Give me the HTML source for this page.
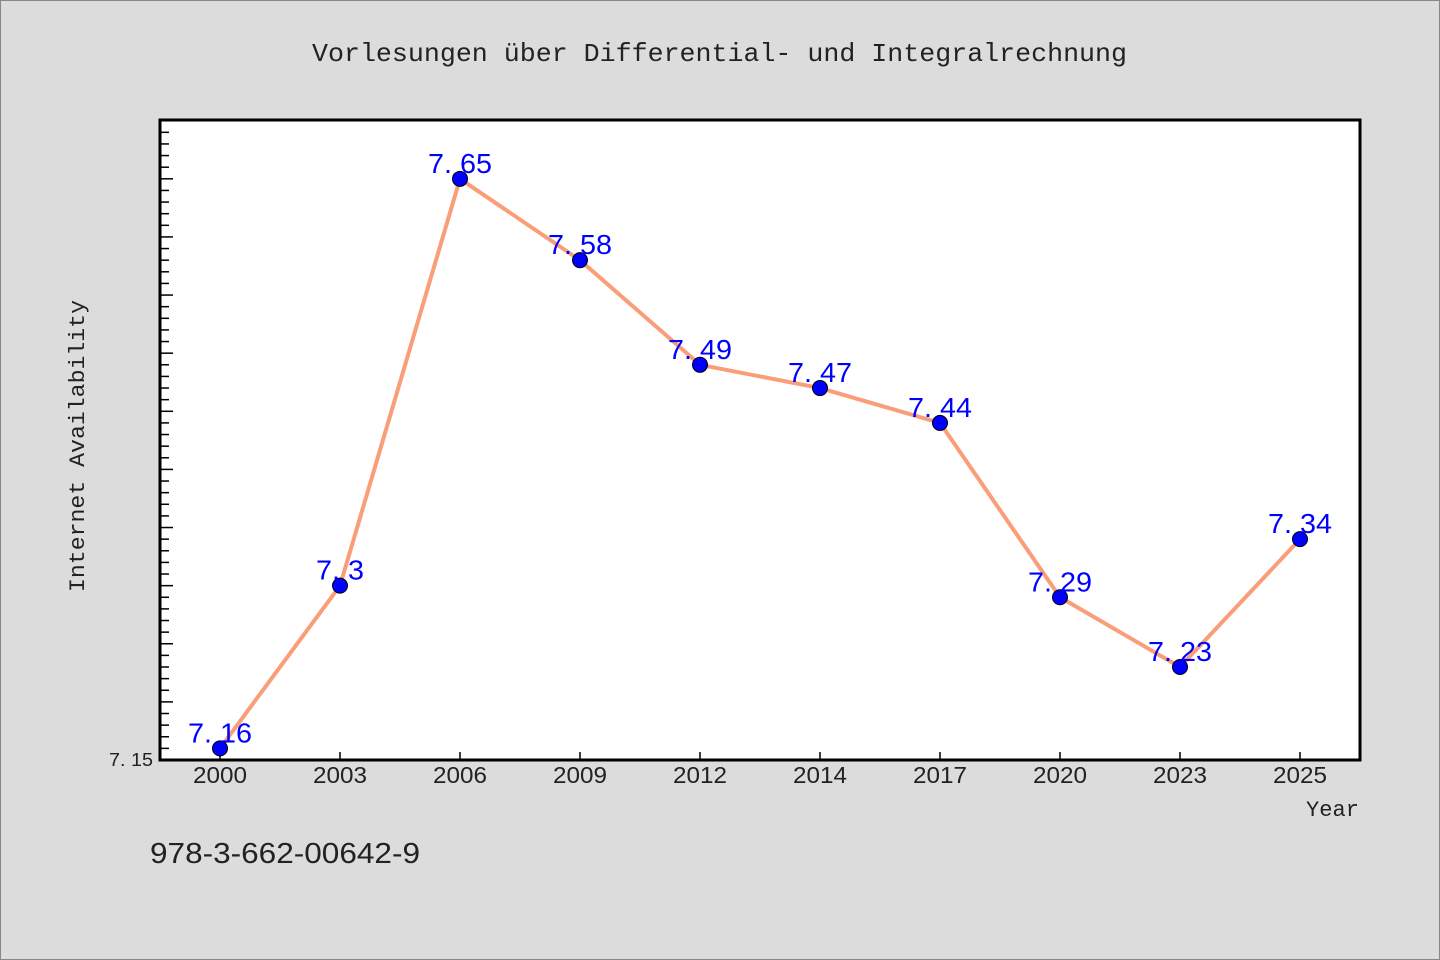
<!DOCTYPE html>
<html><head><meta charset="utf-8"><style>
body{margin:0;background:#dcdcdc;}
svg{display:block;font-family:"Liberation Sans",sans-serif;}
</style></head><body>
<svg width="1440" height="960" id="c">
<rect x="0.5" y="0.5" width="1439" height="959" fill="#dcdcdc" stroke="#888"/>
<text x="312" y="61" textLength="815" lengthAdjust="spacingAndGlyphs" font-family="Liberation Mono, monospace" font-size="26" fill="#222">Vorlesungen über Differential- und Integralrechnung</text>
<rect x="160" y="120" width="1200" height="640" fill="#fff"/>
<g id="ticks"></g>
<g id="marks"></g>
<rect x="160" y="120" width="1200" height="640" fill="none" stroke="#000" stroke-width="3"/>
<text x="84" y="592" transform="rotate(-90 84 592)" textLength="292" lengthAdjust="spacingAndGlyphs" font-family="Liberation Mono, monospace" font-size="22" fill="#222">Internet Availability</text>
<text x="1306" y="816" textLength="53" lengthAdjust="spacingAndGlyphs" font-family="Liberation Mono, monospace" font-size="22" fill="#222">Year</text>
<text x="150" y="863" textLength="270" lengthAdjust="spacingAndGlyphs" font-size="29" fill="#222">978-3-662-00642-9</text>
</svg>
<script>
const categories=["2000","2003","2006","2009","2012","2014","2017","2020","2023","2025"];
const values=[7.16,7.3,7.65,7.58,7.49,7.47,7.44,7.29,7.23,7.34];
const yTickLabels=["7.15"];
const yMin=7.15,yMax=7.7006;
const L=160,R=1360,T=120,B=760;
const NS="http://www.w3.org/2000/svg";
function xs(i){return L+(R-L)/categories.length*(i+0.5);}
function ys(v){return B-(v-yMin)/(yMax-yMin)*(B-T);}
function mk(tag,attrs,parent){const e=document.createElementNS(NS,tag);for(const k in attrs)e.setAttribute(k,attrs[k]);parent.appendChild(e);return e;}
const tg=document.getElementById('ticks'),mg=document.getElementById('marks');
for(let k=1;;k++){const v=yMin+k*0.01;if(v>yMax)break;const y=ys(v);const major=k%5===0;
const t=mk('line',{x1:L,x2:L+(major?13:9),y1:y,y2:y,stroke:'#000','stroke-width':1.5},tg);

}
yTickLabels.forEach(s=>{const t=mk('text',{x:153,y:ys(parseFloat(s))+6,'text-anchor':'end','font-size':18,fill:'#222',textLength:44,lengthAdjust:'spacingAndGlyphs'},tg);t.textContent=s.replace('.','. ');

});
categories.forEach((c,i)=>{const x=xs(i);
const t=mk('line',{x1:x,x2:x,y1:B,y2:B-8,stroke:'#000','stroke-width':1.5},tg);


const l=mk('text',{x:x-27,y:783,'font-size':23,fill:'#222',textLength:54,lengthAdjust:'spacingAndGlyphs'},tg);l.textContent=c;

});
const line=mk('polyline',{points:values.map((v,i)=>xs(i)+','+ys(v)).join(' '),fill:'none',stroke:'#fa9e7a','stroke-width':4,'stroke-linejoin':'round'},mg);


values.forEach((v,i)=>{
const p=mk('circle',{cx:xs(i),cy:ys(v),r:7.5,fill:'#0000ff',stroke:'#000','stroke-width':1},mg);


const s=String(v).replace('.','. ');
const t=mk('text',{x:xs(i),y:ys(v)-6,'text-anchor':'middle','font-size':28,fill:'#0000ff',textLength:s.length>4?64:48,lengthAdjust:'spacingAndGlyphs'},mg);t.textContent=s;

});
</script>
</body></html>
